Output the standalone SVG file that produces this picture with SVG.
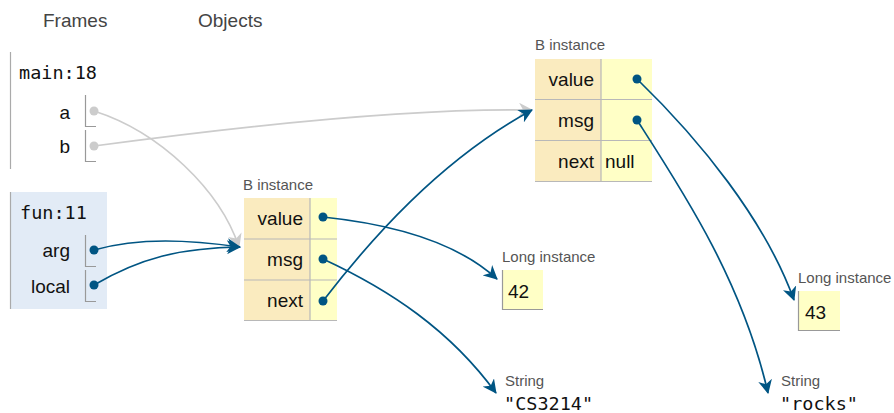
<svg xmlns="http://www.w3.org/2000/svg" width="894" height="413" viewBox="0 0 894 413">
<style>
.hdr{font-family:"Liberation Sans",Arial,sans-serif;font-size:19px;fill:#444}
.mono{font-family:"DejaVu Sans Mono","Liberation Mono",monospace;font-size:18.5px;fill:#111}
.var{font-family:"Liberation Sans",Arial,sans-serif;font-size:19px;fill:#111;text-anchor:end}
.lbl{font-family:"Liberation Sans",Arial,sans-serif;font-size:15px;fill:#555}
.val{font-family:"Liberation Sans",Arial,sans-serif;font-size:19px;fill:#111}
.key{fill:#faebbf}
.vcell{fill:#ffffc6}
.grid{stroke:#b8b8b8;stroke-width:1.2;fill:none}
.vbox{stroke:#999;stroke-width:1.2;fill:none}
.blue{stroke:#005583;stroke-width:1.7;fill:none;marker-end:url(#ab)}
.grey{stroke:#cccccc;stroke-width:1.7;fill:none;marker-end:url(#ag)}
.dotb{fill:#005583}
.dotg{fill:#cccccc}
</style>
<defs>
<marker id="ab" markerUnits="userSpaceOnUse" markerWidth="14" markerHeight="14" refX="13" refY="7" orient="auto">
<path d="M0,0 L14,7 L0,14 L4,7 z" fill="#005583"/>
</marker>
<marker id="ag" markerUnits="userSpaceOnUse" markerWidth="14" markerHeight="14" refX="13" refY="7" orient="auto">
<path d="M0,0 L14,7 L0,14 L4,7 z" fill="#cccccc"/>
</marker>
</defs>
<rect x="0" y="0" width="894" height="413" fill="#ffffff"/>
<text class="hdr" x="43" y="27">Frames</text>
<text class="hdr" x="198" y="27">Objects</text>

<g id="frame-main">
<line x1="10.5" y1="52" x2="10.5" y2="169" stroke="#aaaaaa" stroke-width="1.2"/>
<text class="mono" x="19" y="79">main:18</text>
<text class="var" x="70" y="119">a</text>
<path class="vbox" d="M85.5,95 V126.5 H96"/>
<text class="var" x="70" y="153">b</text>
<path class="vbox" d="M85.5,130 V161.5 H96"/>
</g>

<g id="frame-fun">
<rect x="10" y="192" width="97" height="117" fill="#e2ebf6"/>
<line x1="10.5" y1="192" x2="10.5" y2="309" stroke="#aaaaaa" stroke-width="1.2"/>
<text class="mono" x="20" y="219">fun:11</text>
<text class="var" x="70" y="257">arg</text>
<path class="vbox" d="M85.5,235 V266.5 H96"/>
<text class="var" x="70" y="293">local</text>
<path class="vbox" d="M85.5,270 V301.5 H96"/>
</g>

<g id="b-instance-1">
<text class="lbl" x="243" y="190">B instance</text>
<rect class="key" x="244" y="198" width="66" height="122"/>
<rect class="vcell" x="310" y="198" width="27" height="122"/>
<path class="grid" d="M244,239 H337 M244,280 H337 M310,198 V320 M244,320.5 H337"/>
<text class="var" x="303" y="225">value</text>
<text class="var" x="303" y="266">msg</text>
<text class="var" x="303" y="307">next</text>
</g>

<g id="b-instance-2">
<text class="lbl" x="535" y="50">B instance</text>
<rect class="key" x="535" y="59" width="66" height="122"/>
<rect class="vcell" x="601" y="59" width="51" height="122"/>
<path class="grid" d="M535,99.5 H652 M535,140.5 H652 M601,59 V181 M535,181.5 H652"/>
<text class="var" x="594" y="86">value</text>
<text class="var" x="594" y="127">msg</text>
<text class="var" x="594" y="168">next</text>
<text class="val" x="605" y="168">null</text>
</g>

<g id="long-42">
<text class="lbl" x="502" y="262">Long instance</text>
<rect class="vcell" x="502" y="270" width="41" height="40"/>
<path d="M502.5,270 V309.5 H543" stroke="#999" stroke-width="1.2" fill="none"/>
<text class="val" x="508" y="298">42</text>
</g>

<g id="long-43">
<text class="lbl" x="798" y="283">Long instance</text>
<rect class="vcell" x="798" y="291" width="42" height="40"/>
<path d="M798.5,291 V330.5 H840" stroke="#999" stroke-width="1.2" fill="none"/>
<text class="val" x="805" y="319">43</text>
</g>

<g id="string-cs3214">
<text class="lbl" x="505" y="386">String</text>
<text class="mono" x="504" y="410">"CS3214"</text>
</g>

<g id="string-rocks">
<text class="lbl" x="781" y="386">String</text>
<text class="mono" x="780" y="410">"rocks"</text>
</g>

<g id="connectors">
<path class="grey" d="M94,111 C160,132 220,190 239,247"/>
<path class="grey" d="M94,146 C250,125 420,108 532,110"/>
<path class="blue" d="M94,250 C140,237 190,240 240,247"/>
<path class="blue" d="M94,285 C140,258 180,248 240,247"/>
<path class="blue" d="M323,217 C400,225 460,245 497,279"/>
<path class="blue" d="M323,259 C390,290 450,330 496,393"/>
<path class="blue" d="M323,301 C370,240 440,160 532,110"/>
<path class="blue" d="M637,79 C700,140 765,220 794,300"/>
<path class="blue" d="M637,120 C682,190 742,280 768,393"/>
<circle class="dotg" cx="94" cy="111" r="4.5"/>
<circle class="dotg" cx="94" cy="146" r="4.5"/>
<circle class="dotb" cx="94" cy="250" r="4.5"/>
<circle class="dotb" cx="94" cy="285" r="4.5"/>
<circle class="dotb" cx="323" cy="217" r="4.5"/>
<circle class="dotb" cx="323" cy="259" r="4.5"/>
<circle class="dotb" cx="323" cy="301" r="4.5"/>
<circle class="dotb" cx="637" cy="79" r="4.5"/>
<circle class="dotb" cx="637" cy="120" r="4.5"/>
</g>
</svg>
